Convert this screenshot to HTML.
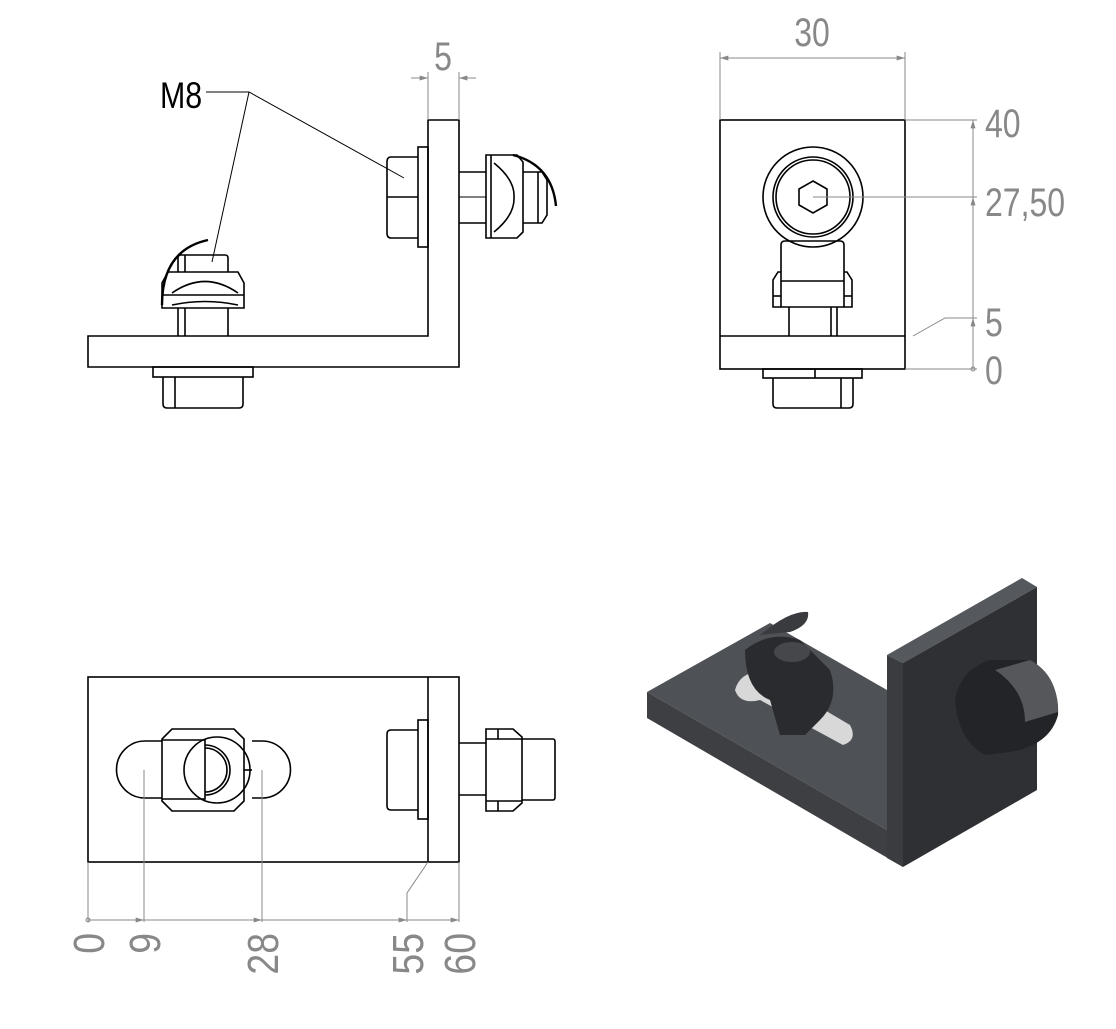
<!DOCTYPE html>
<html><head><meta charset="utf-8"><style>html,body{margin:0;padding:0;background:#fff}svg{display:block}</style></head>
<body>
<svg width="1116" height="1029" viewBox="0 0 1116 1029" xmlns="http://www.w3.org/2000/svg" font-family="Liberation Sans, sans-serif">
<defs>
<marker id="a" viewBox="0 0 10 6" refX="10" refY="3" markerWidth="14" markerHeight="5" orient="auto-start-reverse" markerUnits="userSpaceOnUse"><path d="M0,0L10,3L0,6z" fill="#888"/></marker>
</defs>
<g fill="none" stroke="#000" stroke-width="1.6">
<path d="M88,336H428V120H459V367H88Z"/>
<rect x="418" y="147" width="10" height="100"/>
<path d="M418,157H391Q387,157 387,162V233Q387,238 391,238H418"/>
<line x1="387" y1="197" x2="418" y2="197"/>
<line x1="459" y1="172" x2="486" y2="172"/><line x1="459" y1="223" x2="486" y2="223"/>
<line x1="459" y1="197" x2="486" y2="197" stroke-width="1"/>
<path d="M486,155H517L523,162V232L517,238H486Z"/>
<line x1="491" y1="155" x2="491" y2="238"/>
<path d="M494,163Q515,180 514,197Q515,215 494,232"/>
<path d="M523,172H542L547,180V215L542,223H523"/>
<line x1="538" y1="172" x2="538" y2="223"/>
<path d="M513,155Q552,165 556,206" stroke-width="2.4"/>
<line x1="178" y1="308" x2="178" y2="336"/><line x1="185" y1="308" x2="185" y2="336"/><line x1="228" y1="308" x2="228" y2="336"/>
<path d="M162,308V283L168,272H238L244,283V308Z"/>
<path d="M172,293Q205,270 238,293M172,305Q205,298 238,305"/>
<line x1="162" y1="295" x2="244" y2="295"/>
<path d="M178,272V258Q178,255 181,255H225Q228,255 228,258V272"/>
<line x1="185" y1="255" x2="185" y2="272"/>
<path d="M162,305Q162,250 208,240" stroke-width="2.4"/>
<rect x="153" y="367" width="100" height="10"/>
<path d="M163,377V404Q163,408 167,408H239Q243,408 243,404V377"/>
<line x1="175" y1="377" x2="175" y2="408"/>
<rect x="720" y="120" width="185" height="249"/>
<line x1="720" y1="336" x2="905" y2="336"/>
<circle cx="813" cy="197" r="50"/><circle cx="813" cy="197" r="40"/><circle cx="813" cy="197" r="37"/>
<path d="M813,181L827,189V205L813,213L799,205V189Z"/>
<path d="M781,307V245Q781,241 785,241H840Q844,241 844,245V307Z"/>
<line x1="781" y1="281" x2="844" y2="281"/>
<path d="M781,272H778L773,280V307H781M844,272H847L852,280V307H844"/>
<line x1="773" y1="296" x2="781" y2="296"/><line x1="844" y1="296" x2="852" y2="296"/>
<line x1="789" y1="307" x2="789" y2="336"/><line x1="831" y1="307" x2="831" y2="336"/><line x1="837" y1="307" x2="837" y2="336"/>
<rect x="763" y="369" width="99" height="9"/><line x1="815" y1="369" x2="815" y2="378"/>
<path d="M773,378V404Q773,408 777,408H849Q853,408 853,404V378"/><line x1="841" y1="378" x2="841" y2="408"/>
<rect x="88" y="677" width="371" height="185"/>
<line x1="428" y1="677" x2="428" y2="862"/>
<path d="M162,741H145A28.5,28.5 0 0 0 145,798H162M252,741H262A28.5,28.5 0 0 1 262,798H252"/>
<path d="M172,729H234L244,739V801L234,811H172L162,801V739Z"/>
<circle cx="217" cy="770" r="33"/>
<path d="M162,740H205V799H162"/>
<path d="M205,745A25,25 0 0 1 205,795M205,748A22,22 0 0 1 205,792"/>
<line x1="244" y1="770" x2="252" y2="770"/>
<rect x="418" y="720" width="10" height="99"/>
<path d="M418,730H391Q387,730 387,734V806Q387,810 391,810H418"/>
<path d="M459,743H486M459,795H486"/>
<path d="M486,729H513L522,737V803L513,811H486Z"/>
<line x1="486" y1="739" x2="522" y2="739"/><line x1="486" y1="801" x2="522" y2="801"/>
<line x1="498" y1="729" x2="498" y2="739"/><line x1="498" y1="801" x2="498" y2="811"/>
<path d="M522,739H553Q555,739 555,742V797Q555,800 553,800H522"/>
</g>
<g stroke="#888" stroke-width="1" fill="none">
<line x1="428" y1="72" x2="428" y2="120"/><line x1="459" y1="72" x2="459" y2="120"/>
<line x1="411" y1="78" x2="428" y2="78" marker-end="url(#a)"/><line x1="476" y1="78" x2="459" y2="78" marker-end="url(#a)"/>
<line x1="720" y1="52" x2="720" y2="120"/><line x1="905" y1="52" x2="905" y2="120"/>
<line x1="720" y1="58" x2="905" y2="58" marker-start="url(#a)" marker-end="url(#a)"/>
<line x1="905" y1="120" x2="977" y2="120"/><line x1="813" y1="197" x2="977" y2="197"/><line x1="905" y1="369" x2="977" y2="369"/>
<path d="M913,336L945,318H977"/>
<line x1="973" y1="369" x2="973" y2="120" marker-end="url(#a)"/>
<line x1="973" y1="369" x2="973" y2="197" marker-end="url(#a)"/>
<line x1="973" y1="369" x2="973" y2="318" marker-end="url(#a)"/>
<circle cx="973" cy="369" r="2"/>
<line x1="88" y1="862" x2="88" y2="922"/><line x1="144" y1="770" x2="144" y2="922"/><line x1="262" y1="770" x2="262" y2="922"/><line x1="459" y1="862" x2="459" y2="922"/>
<path d="M428,862L407,893V922"/>
<line x1="88" y1="920" x2="459" y2="920"/>
<line x1="88" y1="920" x2="144" y2="920" marker-end="url(#a)"/>
<line x1="88" y1="920" x2="262" y2="920" marker-end="url(#a)"/>
<line x1="88" y1="920" x2="407" y2="920" marker-end="url(#a)"/>
<line x1="88" y1="920" x2="459" y2="920" marker-end="url(#a)"/>
<circle cx="88" cy="920" r="2"/>
</g>
<g fill="none" stroke="#000" stroke-width="1">
<path d="M206,92H249L404,178M249,92L212,262"/>
</g>
<text transform="translate(160,108) scale(0.82,1)" font-size="37" fill="#000">M8</text>
<g fill="#888" font-size="40">
<text transform="translate(443,70) scale(0.8,1)" text-anchor="middle">5</text>
<text transform="translate(812,46) scale(0.8,1)" text-anchor="middle">30</text>
<text transform="translate(985,137) scale(0.8,1)">40</text>
<text transform="translate(985,216) scale(0.8,1)">27,50</text>
<text transform="translate(985,336) scale(0.8,1)">5</text>
<text transform="translate(985,384) scale(0.8,1)">0</text>
</g>
<g fill="#888" font-size="44">
<text transform="translate(104,933) rotate(-90) scale(0.85,1)" text-anchor="end">0</text>
<text transform="translate(160,933) rotate(-90) scale(0.85,1)" text-anchor="end">9</text>
<text transform="translate(278,933) rotate(-90) scale(0.85,1)" text-anchor="end">28</text>
<text transform="translate(423,933) rotate(-90) scale(0.85,1)" text-anchor="end">55</text>
<text transform="translate(475,933) rotate(-90) scale(0.85,1)" text-anchor="end">60</text>
</g>
<g stroke="none">
<polygon points="647,692 770,623 887,690 887,830" fill="#4e5156"/>
<polygon points="647,692 887,830 903,840 903,867 647,718" fill="#3d3f43"/>
<polygon points="887,655 1022,578 1037,587 903,663" fill="#55585d"/>
<polygon points="887,655 903,663 903,867 887,858" fill="#3a3c40"/>
<polygon points="903,663 1037,587 1037,790 903,867" fill="#2e3033"/>
<path d="M735,690Q740,672 760,672L850,725Q858,740 843,745L760,700Q740,705 735,690Z" fill="#d8d8d8"/>
<path d="M745,650Q770,630 800,640L830,670Q840,700 820,720L805,735L780,735L770,700Q745,690 745,650Z" fill="#2a2b2e"/>
<ellipse cx="792" cy="652" rx="18" ry="10" fill="#45474b"/>
<path d="M760,635Q790,610 808,612Q810,625 790,632Z" fill="#3a3b3f"/>
<path d="M955,700Q960,670 990,660L1030,660Q1060,680 1058,715Q1050,745 1010,752L985,755Q958,740 955,700Z" fill="#232427"/>
<path d="M995,670L1030,660Q1058,675 1058,712L1025,722Q1025,690 995,670Z" fill="#55575b"/>
</g>
</svg>
</body></html>
